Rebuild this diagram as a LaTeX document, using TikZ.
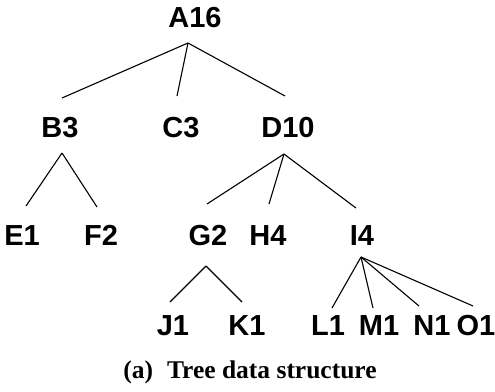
\documentclass[tikz,border=0pt]{standalone}
\usepackage{fontspec}
\setmainfont{Liberation Serif}
\newfontfamily\arialfont{Liberation Sans}
\usepackage{tikz}
\tikzstyle{tree node}=[inner sep=0pt,anchor=base,font=\arialfont\bfseries\fontsize{29}{32}\selectfont]
\tikzstyle{caption text}=[inner sep=0pt,anchor=base,font=\bfseries\fontsize{25.5}{30}\selectfont]
\tikzstyle{branch} = [draw,line width=1.1pt,-]

\begin{document}
\begin{tikzpicture}[x=1pt,y=-1pt]
          \useasboundingbox (0,0) rectangle (495,391);
          % labels
          \node[tree node] (A16) at (195,27) {A16};
          \node[tree node] (B3) at (60,137) {B3};
          \node[tree node] (C3) at (181,137) {C3};
          \node[tree node] (D10) at (288,137) {D10};
          \node[tree node] (E1) at (22,245) {E1};
          \node[tree node] (F2) at (101,245) {F2};
          \node[tree node] (G2) at (208,245) {G2};
          \node[tree node] (H4) at (268,245) {H4};
          \node[tree node] (I4) at (362,245) {I4};
          \node[tree node] (J1) at (173,335) {J1};
          \node[tree node] (K1) at (247,335) {K1};
          \node[tree node] (L1) at (328,335) {L1};
          \node[tree node] (M1) at (379,335) {M1};
          \node[tree node] (N1) at (432,335) {N1};
          \node[tree node] (O1) at (476,335) {O1};
          \node[caption text] (cap) at (250,378) {(a)\hspace{14pt}Tree data structure};
          % branch ends
          \coordinate (aA) at (188,43);
          \coordinate (aB) at (62,153);
          \coordinate (aD) at (284,154);
          \coordinate (aG) at (206,266);
          \coordinate (aI) at (361,257);
          \coordinate (tB) at (62,98);
          \coordinate (tC) at (177,96);
          \coordinate (tD) at (285,96);
          \coordinate (tE) at (26,206);
          \coordinate (tF) at (97,207);
          \coordinate (tG) at (207,204);
          \coordinate (tH) at (269,204);
          \coordinate (tI) at (356,208);
          \coordinate (tJ) at (170,302);
          \coordinate (tK) at (242,302);
          \coordinate (tL) at (332,308);
          \coordinate (tM) at (373,308);
          \coordinate (tN) at (419,306);
          \coordinate (tO) at (473,306);
          \draw[branch] (aA) to (tB);
          \draw[branch] (aA) to (tC);
          \draw[branch] (aA) to (tD);
          \draw[branch] (aB) to (tE);
          \draw[branch] (aB) to (tF);
          \draw[branch] (aD) to (tG);
          \draw[branch] (aD) to (tH);
          \draw[branch] (aD) to (tI);
          \draw[branch] (aG) to (tJ);
          \draw[branch] (aG) to (tK);
          \draw[branch] (aI) to (tL);
          \draw[branch] (aI) to (tM);
          \draw[branch] (aI) to (tN);
          \draw[branch] (aI) to (tO);

        \end{tikzpicture}
\end{document}
